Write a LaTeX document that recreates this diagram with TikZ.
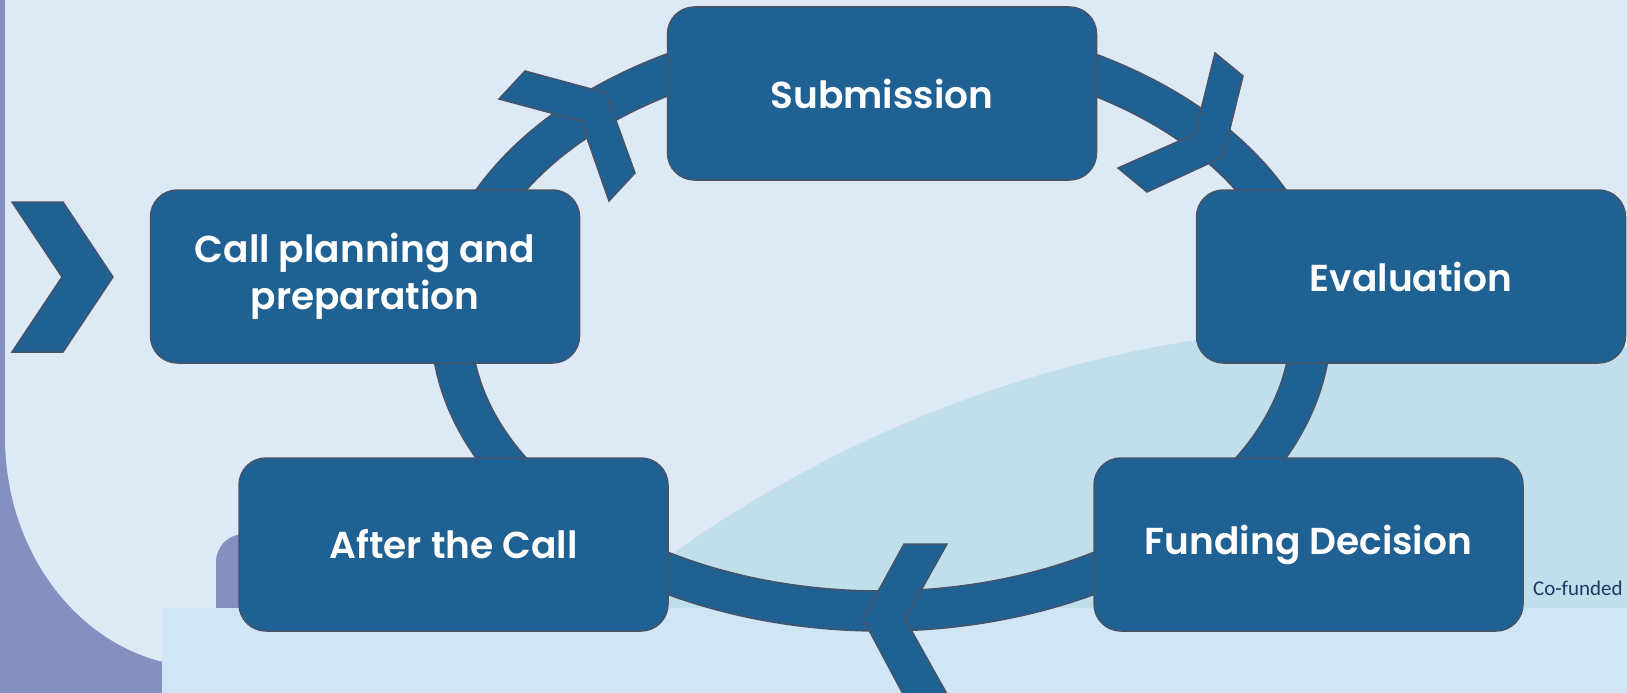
\documentclass[tikz,border=0pt]{standalone}
\usepackage{fontspec}
\setmainfont{Poppins}
\newfontfamily\stagefont{Poppins SemiBold}
\newfontfamily\cofont{Carlito}
\definecolor{bglight}{HTML}{DDE9F5}
\definecolor{purp}{HTML}{8490C0}
\definecolor{tealbg}{HTML}{C1DFEA}
\definecolor{palebg}{HTML}{D0E6F5}
\definecolor{boxblue}{HTML}{1F6193}
\definecolor{edgegray}{HTML}{46546A}
\definecolor{navytext}{HTML}{1F3864}
\begin{document}
\begin{tikzpicture}[x=1pt,y=-1pt,
  stagebox/.style={draw=edgegray, line width=1.5pt, fill=boxblue, rounded corners=27pt,
    minimum width=429pt, minimum height=173pt, text=white,
    font=\stagefont\fontsize{37.5}{47}\selectfont, align=center, inner sep=0pt},
  chev/.style={draw=edgegray, line width=1.5pt, fill=boxblue, line join=miter}]
\useasboundingbox (0,0) rectangle (1627,693);
\clip (0,0) rectangle (1627,693);
% background
\fill[purp] (0,0) rectangle (1627,693);
\fill[bglight] (5,-5) -- (5,437) arc[start angle=180, end angle=90, x radius=200, y radius=230] -- (1640,667) -- (1640,-5) -- cycle;
\fill[tealbg] (1389,1561) circle[radius=1236];
\fill[purp, rounded corners=28pt] (216,534) rectangle (320,650);
\fill[palebg] (162,608) rectangle (1640,700);
\node[anchor=base west, text=navytext, font=\cofont\fontsize{21}{25}\selectfont, inner sep=0pt] (cofund) at (1533,595) {Co-funded};
% ring
\coordinate (ringc) at (881,324);
\path[fill=boxblue, even odd rule, draw=edgegray, line width=1.5pt]
  (ringc) ellipse[x radius=450, y radius=307]
  (ringc) ellipse[x radius=410, y radius=267];
% chevrons
\draw[chev] (12,202) -- (63,202) -- (113,277) -- (63,352) -- (12,352) -- (62,277) -- cycle;
\draw[chev] (525,71) -- (606,93) -- (635,173) -- (609,201) -- (581,121) -- (499,99) -- cycle;
\draw[chev] (1215,53) -- (1243,76) -- (1223,157) -- (1147,192) -- (1118,168) -- (1195,134) -- cycle;
\draw[chev] (904,544) -- (947,544) -- (905,619) -- (947,694) -- (903,694) -- (863,619) -- cycle;
% stages
\node[stagebox] (sub) at (882,93.5) {Submission};
\node[stagebox] (plan) at (365,276.5) {\raisebox{-2.5pt}{Call planning and}\\\raisebox{-2.5pt}{preparation}};
\node[stagebox] (eval) at (1411,276.5) {Evaluation};
\node[stagebox] (after) at (453.5,544.5) {After the Call};
\node[stagebox] (fund) at (1308.5,544.5) {Funding Decision};
\end{tikzpicture}
\end{document}
